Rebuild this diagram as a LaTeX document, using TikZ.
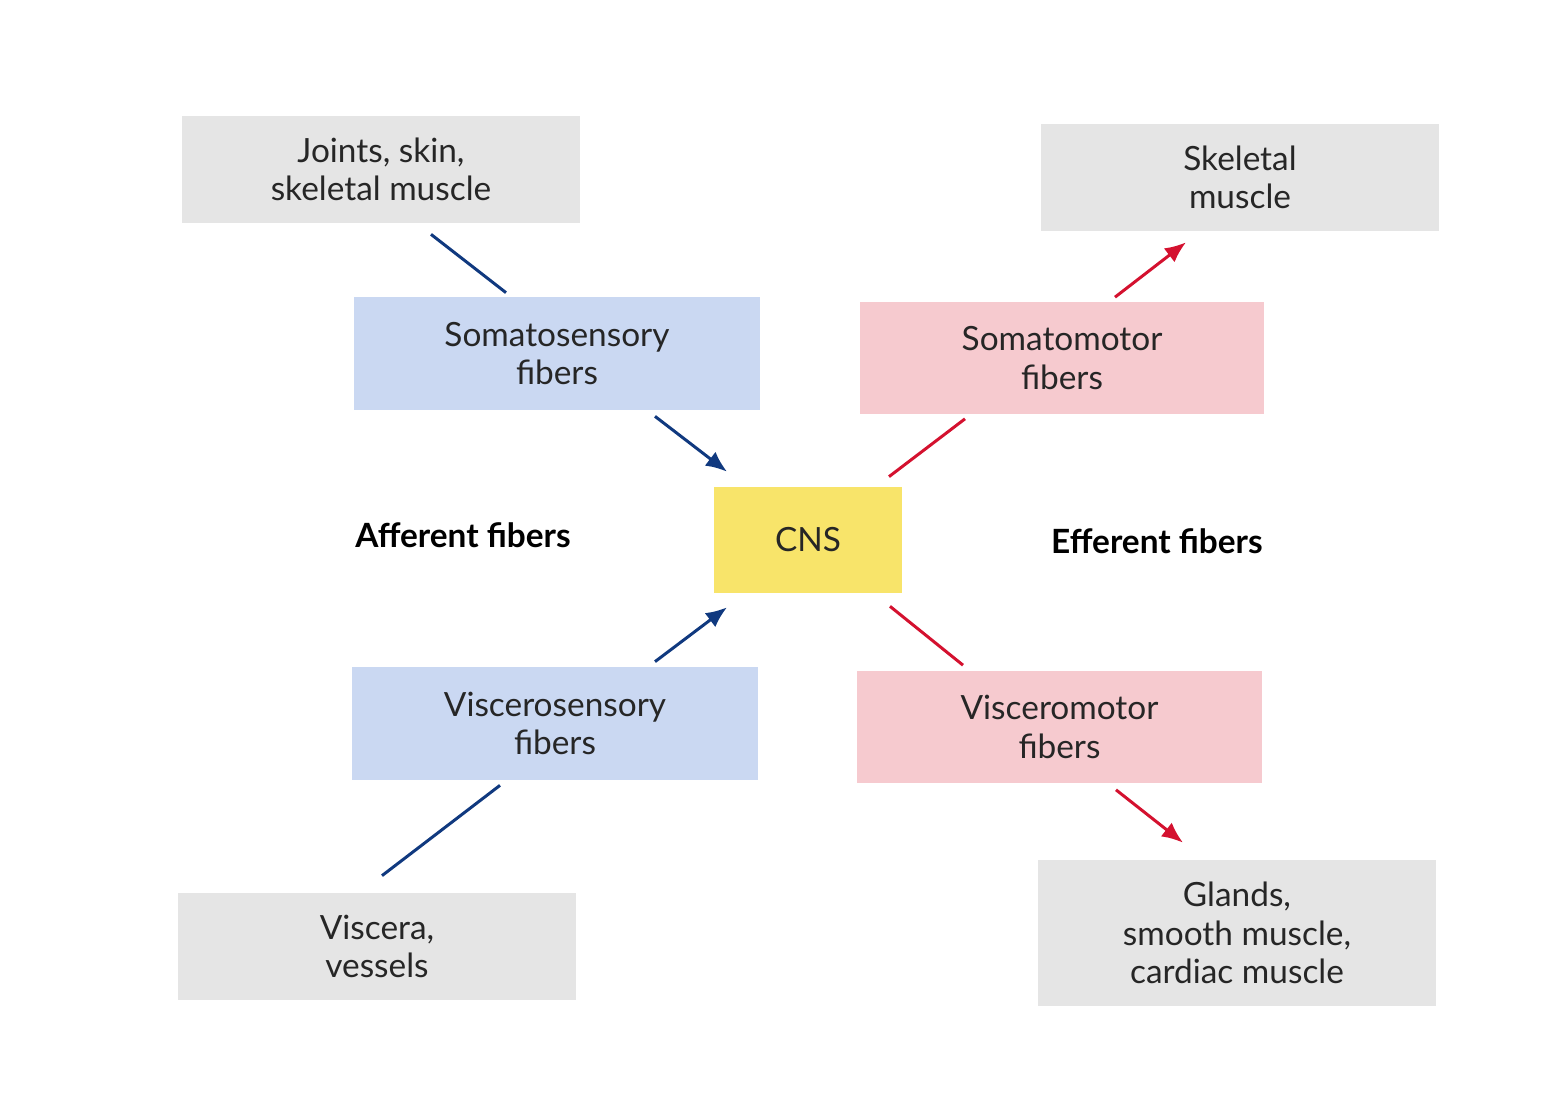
\documentclass[tikz,border=0pt]{standalone}
\usepackage{fontspec}
\setmainfont{Lato}
\usetikzlibrary{calc,arrows.meta}
\definecolor{graybox}{HTML}{E5E5E5}
\definecolor{bluebox}{HTML}{CAD8F2}
\definecolor{pinkbox}{HTML}{F6CACF}
\definecolor{yellowbox}{HTML}{F8E46A}
\definecolor{blueline}{HTML}{10397F}
\definecolor{redline}{HTML}{D4112F}
\tikzset{
  box/.style={inner sep=0pt, align=center, text=black!85,
    font=\fontsize{19}{22}\selectfont},
  srcbox/.style={box, fill=graybox, minimum width=7.96cm, minimum height=2.14cm},
  sensbox/.style={box, fill=bluebox, minimum width=8.12cm, minimum height=2.26cm},
  motbox/.style={box, fill=pinkbox, minimum width=8.1cm, minimum height=2.26cm},
  cnsbox/.style={box, fill=yellowbox, minimum width=3.76cm, minimum height=2.12cm},
  grouplabel/.style={font=\fontsize{19}{22}\selectfont\bfseries, text=black},
  bline/.style={draw=blueline, line width=1.7pt},
  rline/.style={draw=redline, line width=1.7pt},
  tip/.style={-{Latex[length=12pt,width=10pt]}}
}
\begin{document}
\begin{tikzpicture}[x=0.02cm,y=-0.02cm]
\useasboundingbox[fill=white] (0,0) rectangle (1560,1108);

\node[srcbox] (joints) at (381,169.5) {Joints, skin,\\skeletal muscle};
\node[srcbox] (skel) at (1240,177.5) {Skeletal\\muscle};
\node[sensbox] (soma) at (557,353.5) {Somatosensory\\fibers};
\node[motbox] (somot) at (1062,358) {Somatomotor\\fibers};
\node[cnsbox] (cns) at (808,540) {CNS};
\node[sensbox] (vsens) at (555,723.5) {Viscerosensory\\fibers};
\node[motbox] (vmot) at (1059.5,727) {Visceromotor\\fibers};
\node[srcbox] (viscera) at (377,946.5) {Viscera,\\vessels};
\node[srcbox, minimum height=2.92cm] (glands) at (1237,933) {Glands,\\smooth muscle,\\cardiac muscle};

\node[grouplabel] (aff) at (463,535) {Afferent fibers};
\node[grouplabel] (eff) at (1157,541) {Efferent fibers};

\draw[bline] ($(joints.south)+(50,11)$) -- ($(soma.north)+(-51,-4)$);
\draw[bline,tip] ($(soma.south)+(98,6)$) -- ($(cns.north)+(-81,-15)$);
\draw[rline] ($(cns.north)+(81,-10)$) -- ($(somot.south)+(-97,4)$);
\draw[rline,tip] ($(somot.north)+(53,-4)$) -- ($(skel.south)+(-54,11)$);
\draw[bline] ($(viscera.north)+(5,-17)$) -- ($(vsens.south)+(-55,5)$);
\draw[bline,tip] ($(vsens.north)+(100,-5)$) -- ($(cns.south)+(-81,14)$);
\draw[rline] ($(cns.south)+(82,13)$) -- ($(vmot.north)+(-96.5,-5)$);
\draw[rline,tip] ($(vmot.south)+(56.5,6)$) -- ($(glands.north)+(-54,-17)$);
\end{tikzpicture}
\end{document}
